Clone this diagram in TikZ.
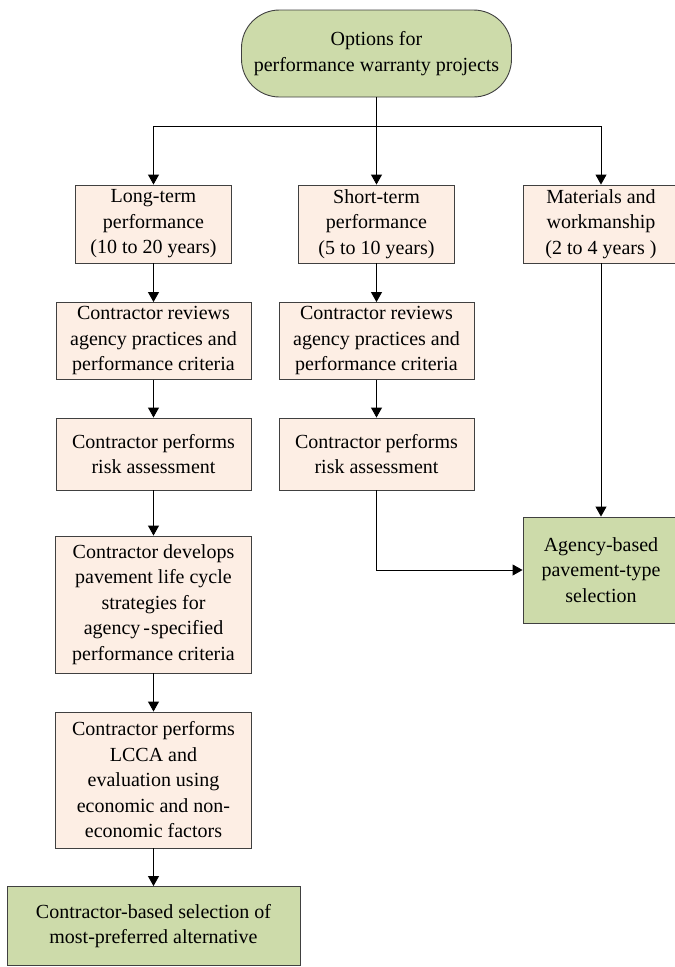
\documentclass[tikz,border=0pt]{standalone}
\usepackage{fontspec}
\setmainfont{Liberation Serif}
\usetikzlibrary{arrows.meta}
\definecolor{peach}{HTML}{FDEEE4}
\definecolor{sage}{HTML}{CDDBAA}
\definecolor{edgegray}{HTML}{404040}
\begin{document}
\begin{tikzpicture}[x=1pt,y=-1pt,
  box/.style={draw=edgegray, line width=0.9pt, fill=peach, align=center, inner sep=0pt,
    font=\fontsize{20}{25.5}\selectfont},
  gbox/.style={box, fill=sage},
  arr/.style={-{Triangle[width=11pt,length=10pt]}, line width=0.9pt, black},
  ln/.style={line width=0.9pt, black}]
\useasboundingbox (0,0) rectangle (675,967);
\node[gbox, rounded corners=38pt, minimum width=270pt, minimum height=87pt] (top) at (376.5,53.5)
  {Options for\\performance warranty projects};
\node[box, minimum width=156pt, minimum height=78pt] (lt) at (153.5,224) {Long-term\\performance\\(10 to 20 years)};
\node[box, minimum width=156pt, minimum height=78pt] (st) at (376.5,224) {Short-term\\performance\\(5 to 10 years)};
\node[box, minimum width=156pt, minimum height=78pt] (mw) at (601,224) {Materials and\\workmanship\\(2 to 4 years )};
\node[box, minimum width=195pt, minimum height=77pt] (rv1) at (153.5,341) {Contractor reviews\\agency practices and\\performance criteria};
\node[box, minimum width=195pt, minimum height=77pt] (rv2) at (376.5,341) {Contractor reviews\\agency practices and\\performance criteria};
\node[box, minimum width=195pt, minimum height=72pt] (ra1) at (153.5,454) {Contractor performs\\risk assessment};
\node[box, minimum width=195pt, minimum height=72pt] (ra2) at (376.5,454) {Contractor performs\\risk assessment};
\node[box, minimum width=196pt, minimum height=137pt] (dev) at (153.5,604.5) {Contractor develops\\pavement life cycle\\strategies for\\agency\hspace{3pt}-\hspace{1pt}specified\\performance criteria};
\node[box, minimum width=196pt, minimum height=136pt] (lcca) at (153.5,780) {Contractor performs\\LCCA and\\evaluation using\\economic and non-\\economic factors};
\node[gbox, minimum width=293pt, minimum height=79pt] (final) at (153.5,926) {Contractor-based selection of\\most-preferred alternative};
\node[gbox, minimum width=156pt, minimum height=106pt] (agency) at (601,570) {Agency-based\\pavement-type\\selection};
\coordinate (j) at (376.5,126);
\draw[ln] (top.south) -- (j);
\draw[arr] (j) -| (lt.north);
\draw[arr] (j) -- (st.north);
\draw[arr] (j) -| (mw.north);
\draw[arr] (lt) -- (rv1);
\draw[arr] (rv1) -- (ra1);
\draw[arr] (ra1) -- (dev);
\draw[arr] (dev) -- (lcca);
\draw[arr] (lcca) -- (final);
\draw[arr] (st) -- (rv2);
\draw[arr] (rv2) -- (ra2);
\draw[arr] (ra2.south) |- (agency.west);
\draw[arr] (mw) -- (agency);
\end{tikzpicture}
\end{document}
